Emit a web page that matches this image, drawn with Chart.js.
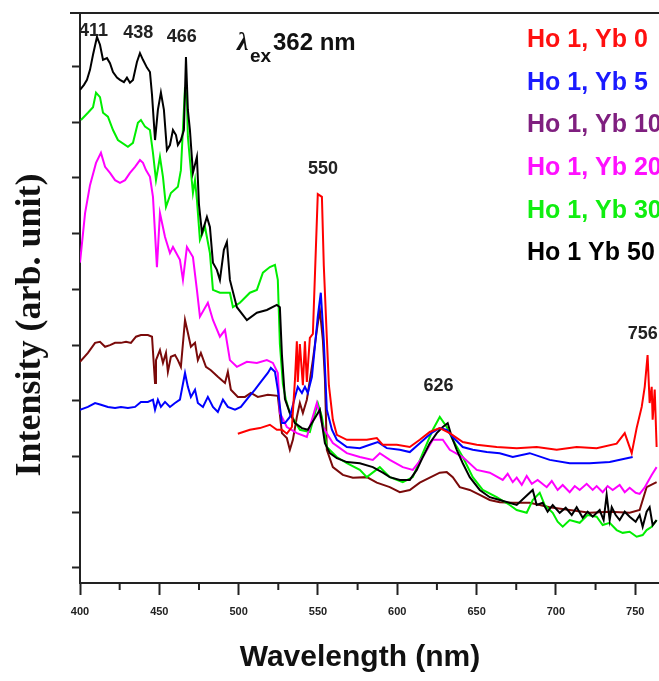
<!DOCTYPE html>
<html><head><meta charset="utf-8">
<script src="https://cdn.jsdelivr.net/npm/chart.js@4"></script>
<style>html,body{margin:0;padding:0;background:#fff;}canvas{display:block;}</style>
</head><body>
<canvas id="c" width="659" height="681"></canvas>
<script>
// ---------- data (wavelength nm, intensity arb. unit) ----------
const seriesNames = ['Ho 1, Yb 0','Ho 1, Yb 5','Ho 1, Yb 10','Ho 1, Yb 20','Ho 1, Yb 30','Ho 1 Yb 50'];
const xTickValues = [400,450,500,550,600,650,700,750];
const xMinorTickValues = [425,475,525,575,625,675,725];
const yTickValues = [0,10,20,30,40,50,60,70,80,90];
const peakWavelengths = [411,438,466,550,626,756];
const peakLabels = ['411','438','466','550','626','756'];

const yb0 = [[499.5,24.1],[507.1,24.8],[513.4,25.1],[519.7,25.7],[524.1,24.8],[527.3,24.8],[530.4,24.1],[533.6,25.3],[535.5,33.7],[536.7,40.7],[537.3,33.4],[538.6,40.2],[540.5,32.8],[541.8,40.7],[543,33.4],[544.9,41.3],[546.8,42.0],[548.7,57.4],[549.9,67.1],[552.5,66.6],[553.7,54.2],[555.6,41.3],[556.9,32.8],[559.4,26.6],[561.9,23.9],[568.2,23.0],[574.5,23.0],[580.8,23.0],[587.1,23.3],[590.9,22.1],[599.7,22.1],[607.9,21.7],[614.2,23.0],[620.5,24.4],[626.8,25.1],[633.1,24.2],[641.3,22.6],[650.1,22.1],[662.7,21.7],[675.3,21.5],[687.9,21.7],[700.5,21.2],[713.1,21.7],[725.7,21.5],[738.3,22.3],[743.4,24.2],[747.8,20.6],[750.9,25.1],[754.1,28.9],[756,32.5],[757.8,38.2],[759.1,29.6],[760.4,32.5],[761,26.6],[762.3,32.0],[763.5,21.7]];

const yb5 = [[400,28.4],[405,28.9],[409.5,29.6],[413.2,29.3],[417.6,28.9],[422.1,28.7],[425.8,28.9],[430.2,28.7],[434.7,28.9],[438.4,29.8],[442.8,29.8],[446,30.2],[447.3,28.4],[449.1,30.2],[451,28.9],[453.6,29.8],[456.7,28.9],[459.9,29.6],[463,30.2],[466.2,35.0],[468,32.5],[469.9,30.7],[472.5,32.0],[474.3,29.6],[477.5,28.9],[480.6,30.7],[483.8,28.9],[486.9,28.0],[490.1,30.2],[493.2,28.9],[497.7,28.4],[501.4,28.9],[505.8,30.5],[510.3,32.0],[514,33.4],[518.4,35.0],[520.3,35.9],[522.9,35.2],[524.7,32.0],[527.3,26.0],[529.2,26.0],[532.3,27.1],[535.5,30.7],[537.3,32.5],[539.9,31.4],[541.8,32.5],[543.6,31.4],[546.2,34.3],[549.9,45.1],[551.8,49.4],[553.7,40.7],[555.6,28.4],[558.8,24.8],[561.9,23.0],[568.2,21.7],[576.4,21.5],[582.7,22.1],[587.7,22.6],[593.4,21.5],[601.6,21.2],[607.9,20.8],[614.2,22.4],[618.6,23.5],[622.4,24.4],[626.8,25.1],[631.2,24.8],[635,23.5],[641.3,21.7],[647.6,21.2],[656.4,20.8],[664.6,20.6],[672.8,19.9],[683.5,20.6],[696.1,19.4],[708.7,18.8],[721.3,18.8],[733.9,19.0],[748.4,19.9]];

const yb10 = [[400,37.0],[405,38.6],[409.5,40.4],[412.6,40.6],[415.8,39.7],[418.9,40.0],[422.1,40.4],[425.8,40.4],[429,40.6],[432.1,40.4],[435.3,41.5],[438.4,41.8],[442.8,41.8],[445.4,41.5],[447.3,33.2],[447.9,37.3],[450.4,39.1],[452.3,36.8],[454.2,38.6],[455.4,35.2],[457.3,37.9],[459.9,38.2],[461.7,37.3],[463.6,36.1],[466.2,44.5],[468,42.2],[469.9,39.7],[472.5,40.4],[474.3,37.3],[476.2,38.6],[479.4,36.1],[482.5,35.5],[486.9,34.3],[491.4,33.2],[493.2,35.2],[495.1,32.0],[499.5,30.7],[504,30.7],[507.7,31.4],[512.1,30.7],[518.4,31.1],[524.7,30.9],[527.3,24.2],[530.4,23.3],[532.3,21.2],[534.2,23.0],[536.7,27.1],[538.6,29.6],[540.5,27.8],[543,30.2],[544.9,33.7],[546.8,37.3],[549.3,42.7],[551.2,46.3],[553.1,40.9],[554.4,33.9],[555.6,21.2],[559.4,18.1],[565.7,16.7],[572,16.2],[580.8,16.3],[587.1,15.3],[595.3,14.5],[601.6,13.6],[607.9,14.0],[614.2,15.3],[620.5,16.2],[626.8,17.1],[631.2,17.2],[635,16.3],[639.4,14.5],[645.7,14.0],[652,13.1],[658.3,12.2],[664.6,11.8],[672.8,11.7],[683.5,11.7],[696.1,10.9],[708.7,10.4],[721.3,9.9],[733.9,10.1],[746.5,9.9],[752.8,10.4],[757.2,14.5],[763.5,15.4]];

const yb20 = [[400,54.8],[403.2,63.7],[406.3,68.7],[410.1,72.7],[413.2,74.5],[415.8,72.0],[418.9,70.9],[422.1,69.6],[425.2,69.1],[428.4,69.6],[431.5,70.9],[434.7,72.0],[437.8,73.2],[439.7,72.7],[441.6,71.4],[444.1,70.2],[446,66.6],[448.5,54.0],[450.4,63.7],[453.6,59.4],[456.7,56.5],[458.6,57.6],[463,55.3],[464.9,51.7],[467.4,57.6],[471.2,55.8],[473.7,49.9],[475.6,45.1],[480.6,47.6],[483.8,44.5],[488.2,41.5],[491.4,42.7],[494.5,37.3],[498.9,36.1],[505.2,37.0],[511.5,36.8],[517.8,37.3],[521.6,36.8],[524.7,35.0],[526,27.8],[530.4,25.3],[536.7,24.2],[543,23.5],[549.3,29.6],[553.1,25.3],[559.4,22.4],[568.2,20.6],[576.4,19.9],[584.6,19.4],[589,20.6],[595.3,19.4],[603.5,18.1],[609.8,17.6],[616.1,19.9],[622.4,23.0],[628.7,23.0],[633.1,21.2],[641.3,19.9],[650.1,17.6],[658.3,17.1],[666.5,15.8],[669.6,16.9],[672.8,15.4],[675.3,16.2],[678.5,14.9],[681.6,16.5],[684.8,15.1],[688.5,15.8],[694.2,14.5],[697.4,15.6],[701.1,14.0],[704.3,14.9],[708.7,13.6],[711.9,14.7],[715,14.0],[719.4,15.1],[723.2,14.0],[725.7,14.7],[729.5,13.6],[732.6,14.7],[735.8,14.0],[740.2,14.9],[743.4,13.6],[746.5,14.4],[750.3,13.5],[752.8,13.3],[755.9,14.4],[757.8,15.4],[760.4,16.7],[763.5,18.1]];

const yb30 = [[400.6,80.4],[405,81.7],[408.2,82.7],[410.1,85.3],[412.6,84.5],[414.5,81.7],[417.6,81.0],[420.8,78.6],[423.9,76.8],[430.2,75.6],[433.4,76.3],[436.5,79.9],[438.4,80.4],[441,79.2],[444.1,78.6],[446,74.5],[447.9,69.6],[450.4,73.8],[452.3,70.2],[454.2,64.8],[457.3,67.3],[461.7,68.4],[463.6,71.4],[466.2,86.3],[467.4,84.0],[468,77.4],[469.3,73.2],[471.2,67.3],[472.5,69.6],[473.7,66.1],[475.6,58.9],[478.8,61.2],[481.9,56.5],[483.8,49.9],[488.2,49.4],[494.5,49.4],[496.4,46.8],[500.8,47.6],[507.1,49.4],[511.5,49.9],[515.3,53.0],[519.7,54.0],[522.9,54.4],[524.7,51.7],[526,40.2],[527.9,33.0],[529.8,30.2],[532.3,27.8],[538.6,24.8],[544.9,24.4],[549.9,29.6],[552.5,27.1],[555.6,21.7],[561.9,19.9],[568.2,18.8],[576.4,17.6],[580.8,16.3],[589,18.1],[595.3,16.3],[603.5,15.4],[609.8,16.3],[616.1,20.6],[622.4,24.8],[626.8,27.1],[631.2,25.3],[635,23.0],[641.3,19.9],[647.6,16.3],[653.9,14.0],[662.7,12.7],[670.9,11.3],[675.3,10.4],[681.6,9.9],[685.4,12.2],[689.8,13.5],[692.9,11.3],[698,9.9],[701.1,8.3],[704.3,7.4],[708.7,8.6],[715,8.1],[720,9.5],[725.7,9.2],[729.5,7.7],[733.9,8.1],[738.3,6.8],[742.1,6.3],[746.5,6.5],[750.9,5.6],[754.7,5.9],[757.2,6.8],[760.4,7.4],[763.5,8.6]];

const yb50 = [[400,85.8],[402.5,86.7],[404.4,87.6],[406.3,89.4],[408.2,92.1],[410.7,95.3],[412.6,93.9],[414.5,91.2],[417,91.5],[418.9,90.6],[420.8,89.0],[423.3,88.0],[425.2,87.6],[427.7,87.2],[429.6,88.0],[431.5,87.1],[433.4,87.6],[435.9,90.8],[437.8,92.4],[439.7,91.2],[442.2,89.8],[444.1,89.0],[445.4,84.9],[447.3,76.8],[449.1,82.2],[451,85.3],[452.9,82.2],[454.8,75.0],[456.7,75.9],[458.6,78.6],[460.5,77.7],[461.7,75.9],[463.6,76.8],[465.5,78.6],[466.8,91.7],[468,82.2],[469.3,78.6],[471.2,70.9],[473.7,73.8],[475,65.2],[476.9,60.1],[480,63.0],[481.9,61.2],[483.8,54.8],[486.3,53.5],[488.2,51.7],[490.7,57.1],[492.6,58.5],[494.5,51.7],[498.9,46.8],[505.2,44.5],[511.5,45.8],[517.8,46.3],[524.1,47.2],[526,46.8],[527.3,38.2],[529.2,30.3],[532.3,27.8],[535.5,26.0],[539.9,25.1],[543.6,24.8],[548.1,26.9],[551.2,28.4],[554.4,22.4],[557.5,20.6],[561.9,19.7],[568.2,19.0],[576.4,18.8],[584.6,18.1],[590.9,17.1],[595.3,16.3],[601.6,15.8],[607.9,15.8],[612.3,17.6],[616.1,19.9],[620.5,22.4],[624.9,24.2],[628.7,25.3],[631.8,26.0],[634.4,23.5],[637.5,21.2],[641.3,18.8],[645.7,16.3],[652,14.0],[658.3,12.7],[664.6,12.2],[675.3,11.3],[685.4,14.0],[687.9,11.3],[691.7,11.7],[694.8,10.1],[698,11.3],[702.4,9.9],[706.2,10.8],[710,9.5],[713.1,10.9],[716.9,9.0],[720,10.1],[723.2,9.2],[727.6,10.4],[730.1,8.6],[732,13.1],[733.9,8.6],[735.2,10.9],[737.7,9.5],[740.2,8.6],[743.4,10.1],[746.5,9.2],[750.3,8.3],[752.8,9.5],[754.7,7.4],[757.2,10.1],[759.1,10.9],[761,7.7],[763.5,8.6]];

// ---------- styling ----------
const lineColors = ['#ff0000','#0000ff','#7a0a0a','#ff00ff','#00ee00','#000000'];
const legendColors = ['#ff1010','#1a1aff','#7f1f7f','#ff10ff','#10ee10','#000000'];
const look = {
  legendX: 527, legendY: [40,83,125,168,211,253],
  peakDx: [-4,-2,-3,5,0,-2], peakY: [31,33,37,169,386,334]
};

const overlay = {
  id: 'overlay',
  afterDraw(chart) {
    const {ctx, chartArea: a, scales: {x}} = chart;
    ctx.save();
    ctx.strokeStyle = '#222'; ctx.lineWidth = 2;
    ctx.beginPath(); ctx.moveTo(a.left - 10, a.top); ctx.lineTo(a.right, a.top); ctx.stroke();
    xMinorTickValues.forEach(v => {
      const p = x.getPixelForValue(v);
      ctx.beginPath(); ctx.moveTo(p, a.bottom); ctx.lineTo(p, a.bottom + 7); ctx.stroke();
    });
    ctx.fillStyle = '#111';
    ctx.textAlign = 'center'; ctx.textBaseline = 'middle';
    ctx.font = 'bold 30px "Liberation Sans", Arial, sans-serif';
    ctx.fillText('Wavelength (nm)', 360, 658);
    ctx.save();
    ctx.translate(31, 325); ctx.rotate(-Math.PI / 2);
    ctx.font = 'bold 36px "Liberation Serif", "Times New Roman", serif';
    ctx.fillText('Intensity (arb. unit)', 0, 0);
    ctx.restore();
    ctx.font = 'bold 18px "Liberation Sans", Arial, sans-serif';
    ctx.fillStyle = '#222';
    peakWavelengths.forEach((w, i) => {
      ctx.fillText(peakLabels[i], x.getPixelForValue(w) + look.peakDx[i], look.peakY[i]);
    });
    ctx.textAlign = 'left'; ctx.textBaseline = 'alphabetic';
    ctx.fillStyle = '#111';
    ctx.font = 'bold italic 26px "Liberation Serif", serif';
    ctx.fillText('λ', 237, 50);
    ctx.font = 'bold 19px "Liberation Sans", Arial, sans-serif';
    ctx.fillText('ex', 250, 62);
    ctx.font = 'bold 24px "Liberation Sans", Arial, sans-serif';
    ctx.fillText('362 nm', 273, 50);
    ctx.font = 'bold 25px "Liberation Sans", Arial, sans-serif';
    ctx.textBaseline = 'middle';
    seriesNames.forEach((n, i) => {
      ctx.fillStyle = legendColors[i];
      ctx.fillText(n, look.legendX, look.legendY[i]);
    });
    ctx.restore();
  }
};

const allSeries = [yb0, yb5, yb10, yb20, yb30, yb50];
const drawOrder = [0, 1, 5, 3, 4, 2];
new Chart(document.getElementById('c'), {
  type: 'line',
  data: {
    datasets: drawOrder.map(i => ({
      label: seriesNames[i],
      data: allSeries[i].map(([x, y]) => ({x, y})),
      borderColor: lineColors[i],
      borderWidth: 2,
      pointRadius: 0,
      tension: 0,
      fill: false
    }))
  },
  options: {
    responsive: false,
    animation: false,
    layout: {padding: {top: 13, left: 0, right: 0, bottom: 0}},
    plugins: {legend: {display: false}, tooltip: {enabled: false}},
    scales: {
      x: {
        type: 'linear', min: 400, max: 765,
        afterBuildTicks: s => { s.ticks = xTickValues.map(v => ({value: v})); },
        afterFit: s => { s.height = 98; },
        grid: {drawOnChartArea: false, drawTicks: true, tickLength: 12, tickColor: '#222', tickWidth: 2},
        border: {display: true, color: '#222', width: 2},
        ticks: {color: '#222', autoSkip: false, maxRotation: 0, padding: 10,
                font: {family: '"Liberation Sans Narrow", "Liberation Sans", Arial, sans-serif', size: 11, weight: 'bold'}}
      },
      y: {
        min: -2.7, max: 99.6,
        afterBuildTicks: s => { s.ticks = yTickValues.map(v => ({value: v})); },
        afterFit: s => { s.width = 80; },
        grid: {drawOnChartArea: false, drawTicks: true, tickLength: 8, tickColor: '#222', tickWidth: 2},
        border: {display: true, color: '#222', width: 2},
        ticks: {display: false}
      }
    }
  },
  plugins: [overlay]
});
</script>
</body></html>
